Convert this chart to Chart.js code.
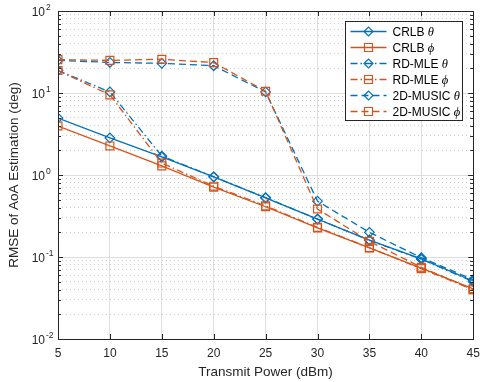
<!DOCTYPE html>
<html>
<head>
<meta charset="utf-8">
<script src="https://cdn.jsdelivr.net/npm/chart.js@4.4.1/dist/chart.umd.min.js"></script>
<style>
  html, body { margin: 0; padding: 0; background: #fff; }
  canvas { display: block; }
</style>
</head>
<body>
<canvas id="rmseChart" width="480" height="382"></canvas>
<script>
// transmit power (dBm)
var power = [5, 10, 15, 20, 25, 30, 35, 40, 45];

// RMSE of AoA estimation (deg)
var crlbTheta  = [4.95, 2.83, 1.66, 0.95, 0.525, 0.29, 0.161, 0.095, 0.051];
var crlbPhi    = [3.96, 2.26, 1.29, 0.71, 0.41, 0.226, 0.129, 0.073, 0.041];
var rdmleTheta = [18.8, 10.3, 1.70, 0.95, 0.53, 0.29, 0.16, 0.094, 0.050];
var rdmlePhi   = [18.8, 9.5, 1.40, 0.73, 0.42, 0.23, 0.13, 0.072, 0.040];
var musicTheta = [25.0, 23.6, 23.0, 21.5, 10.3, 0.48, 0.20, 0.098, 0.053];
var musicPhi   = [25.5, 25.0, 25.8, 23.5, 10.5, 0.385, 0.155, 0.075, 0.040];

var seriesLabels = ['CRLB θ', 'CRLB ϕ', 'RD-MLE θ', 'RD-MLE ϕ', '2D-MUSIC θ', '2D-MUSIC ϕ'];
var xTicks = [5, 10, 15, 20, 25, 30, 35, 40, 45];
var yDecades = [0.01, 0.1, 1, 10, 100];

var BLUE = '#0072BD';
var ORANGE = '#D95319';
var AXIS = '#262626';
var SANS = '"Liberation Sans", Arial, Helvetica, sans-serif';

function pts(arr) {
  return power.map(function(p, i) { return {x: p, y: arr[i]}; });
}

// all the 1..9 x 10^n positions of the log axis
var yTickValues = [];
for (var e = -2; e <= 1; e++) {
  for (var k = 1; k <= 9; k++) {
    yTickValues.push(parseFloat((k * Math.pow(10, e)).toPrecision(3)));
  }
}
yTickValues.push(100);

function isDecade(v) {
  var l = Math.log10(v);
  return Math.abs(l - Math.round(l)) < 1e-9;
}

function makeSet(i, data, color, dash, marker) {
  return {
    label: seriesLabels[i],
    data: pts(data),
    borderColor: color,
    borderWidth: 1.3,
    borderDash: dash,
    pointStyle: marker,
    pointRadius: marker === 'rect' ? 5.6 : 4.8,
    pointHoverRadius: 5,
    pointBorderWidth: 1.2,
    pointBorderColor: color,
    pointBackgroundColor: 'rgba(255,255,255,0)',
    fill: false,
    tension: 0,
    order: 10 - i
  };
}

var DASHDOT = [7, 3, 1.5, 3];
var DASHED = [7, 4];

// box, inward ticks, superscript y labels and legend, MATLAB style
var matlabAxes = {
  id: 'matlabAxes',
  afterDraw: function(chart) {
    var ctx = chart.ctx;
    var a = chart.chartArea;
    var xs = chart.scales.x, ys = chart.scales.y;
    ctx.save();
    ctx.strokeStyle = AXIS;
    ctx.lineWidth = 1;
    ctx.setLineDash([]);
    ctx.strokeRect(Math.round(a.left) + 0.5, Math.round(a.top) + 0.5,
                   Math.round(a.right - a.left), Math.round(a.bottom - a.top));

    ctx.beginPath();
    xTicks.forEach(function(v) {
      var px = Math.round(xs.getPixelForValue(v)) + 0.5;
      ctx.moveTo(px, a.bottom); ctx.lineTo(px, a.bottom - 5);
      ctx.moveTo(px, a.top); ctx.lineTo(px, a.top + 5);
    });
    yTickValues.forEach(function(v) {
      var py = Math.round(ys.getPixelForValue(v)) + 0.5;
      var len = isDecade(v) ? 5 : 3;
      ctx.moveTo(a.left, py); ctx.lineTo(a.left + len, py);
      ctx.moveTo(a.right, py); ctx.lineTo(a.right - len, py);
    });
    ctx.stroke();

    // y tick labels 10^n
    ctx.fillStyle = AXIS;
    yDecades.forEach(function(v) {
      var py = ys.getPixelForValue(v);
      var ex = String(Math.round(Math.log10(v)));
      ctx.font = '12px ' + SANS;
      ctx.textAlign = 'right';
      ctx.textBaseline = 'middle';
      ctx.fillText('10', a.left - 13, py + 1.5);
      ctx.font = '8.5px ' + SANS;
      ctx.textAlign = 'left';
      ctx.textBaseline = 'alphabetic';
      ctx.fillText(ex, a.left - 12, py - 1);
    });

    // legend
    var right = Math.round(a.right) - 10.5;
    var top = Math.round(a.top) + 10.5;
    var left = right - 117;
    var rowH = 16;
    var rows = chart.data.datasets.length;
    ctx.fillStyle = '#ffffff';
    ctx.fillRect(left, top, right - left, rows * rowH + 3);
    ctx.strokeStyle = AXIS;
    ctx.lineWidth = 1;
    ctx.setLineDash([]);
    ctx.strokeRect(left, top, right - left, rows * rowH + 3);

    chart.data.datasets.forEach(function(ds, i) {
      var y = top + 10 + i * rowH;
      var x0 = left + 5, x1 = left + 41, xm = (x0 + x1) / 2;
      ctx.strokeStyle = ds.borderColor;
      ctx.lineWidth = ds.borderWidth;
      ctx.setLineDash(ds.borderDash);
      ctx.beginPath();
      ctx.moveTo(x0, y); ctx.lineTo(x1, y);
      ctx.stroke();
      ctx.setLineDash([]);
      ctx.lineWidth = ds.pointBorderWidth;
      ctx.beginPath();
      if (ds.pointStyle === 'rectRot') {
        ctx.moveTo(xm - 4.5, y); ctx.lineTo(xm, y - 4.5);
        ctx.lineTo(xm + 4.5, y); ctx.lineTo(xm, y + 4.5);
        ctx.closePath();
      } else {
        ctx.rect(xm - 4, y - 4, 8, 8);
      }
      ctx.stroke();

      var parts = ds.label.split(' ');
      var sym = parts.pop();
      var name = parts.join(' ') + ' ';
      ctx.fillStyle = '#000';
      ctx.textAlign = 'left';
      ctx.textBaseline = 'middle';
      ctx.font = '12px ' + SANS;
      ctx.fillText(name, x1 + 6, y + 1);
      var w = ctx.measureText(name).width;
      ctx.font = 'italic 12.5px "Liberation Serif", "Times New Roman", serif';
      ctx.fillText(sym, x1 + 6 + w, y + 1);
    });
    ctx.restore();
  }
};

window.onload = function() {
  var ctx = document.getElementById('rmseChart').getContext('2d');
  var chart = new Chart(ctx, {
    type: 'line',
    data: {
      datasets: [
        makeSet(0, crlbTheta, BLUE, [], 'rectRot'),
        makeSet(1, crlbPhi, ORANGE, [], 'rect'),
        makeSet(2, rdmleTheta, BLUE, DASHDOT, 'rectRot'),
        makeSet(3, rdmlePhi, ORANGE, DASHDOT, 'rect'),
        makeSet(4, musicTheta, BLUE, DASHED, 'rectRot'),
        makeSet(5, musicPhi, ORANGE, DASHED, 'rect')
      ]
    },
    options: {
      responsive: false,
      animation: false,
      devicePixelRatio: 1,
      layout: { padding: { top: 11, right: 6, left: 0, bottom: 0 } },
      plugins: {
        legend: { display: false },
        tooltip: { enabled: false }
      },
      scales: {
        x: {
          type: 'linear',
          min: 5,
          max: 45,
          ticks: {
            stepSize: 5,
            padding: 7,
            color: AXIS,
            font: { family: SANS, size: 12 }
          },
          grid: { color: '#dedede', lineWidth: 1, drawTicks: false },
          border: { display: false },
          title: {
            display: true,
            text: 'Transmit Power (dBm)',
            color: AXIS,
            font: { family: SANS, size: 13.5 },
            padding: { top: 0, bottom: 2 }
          },
          afterFit: function(scale) {
            scale.height = 43;
            scale.paddingLeft = 0;
            scale.paddingRight = 0;
          }
        },
        y: {
          type: 'logarithmic',
          min: 0.01,
          max: 100,
          afterBuildTicks: function(scale) {
            scale.ticks = yTickValues.map(function(v) {
              return { value: v, major: isDecade(v) };
            });
          },
          ticks: { display: false, autoSkip: false },
          grid: {
            drawTicks: false,
            lineWidth: 1,
            color: function(c) {
              return c.tick && !isDecade(c.tick.value) ? '#cbcbcb' : '#dedede';
            }
          },
          border: {
            display: false,
            dash: function(c) {
              return c.tick && !isDecade(c.tick.value) ? [1, 3] : [];
            }
          },
          title: {
            display: true,
            text: 'RMSE of AoA Estimation (deg)',
            color: AXIS,
            font: { family: SANS, size: 13.5 },
            padding: { top: 6, bottom: 0 }
          },
          afterFit: function(scale) {
            scale.width = 58;
            scale.paddingTop = 0;
            scale.paddingBottom = 0;
          }
        }
      }
    },
    plugins: [matlabAxes]
  });
};
</script>
</body>
</html>
